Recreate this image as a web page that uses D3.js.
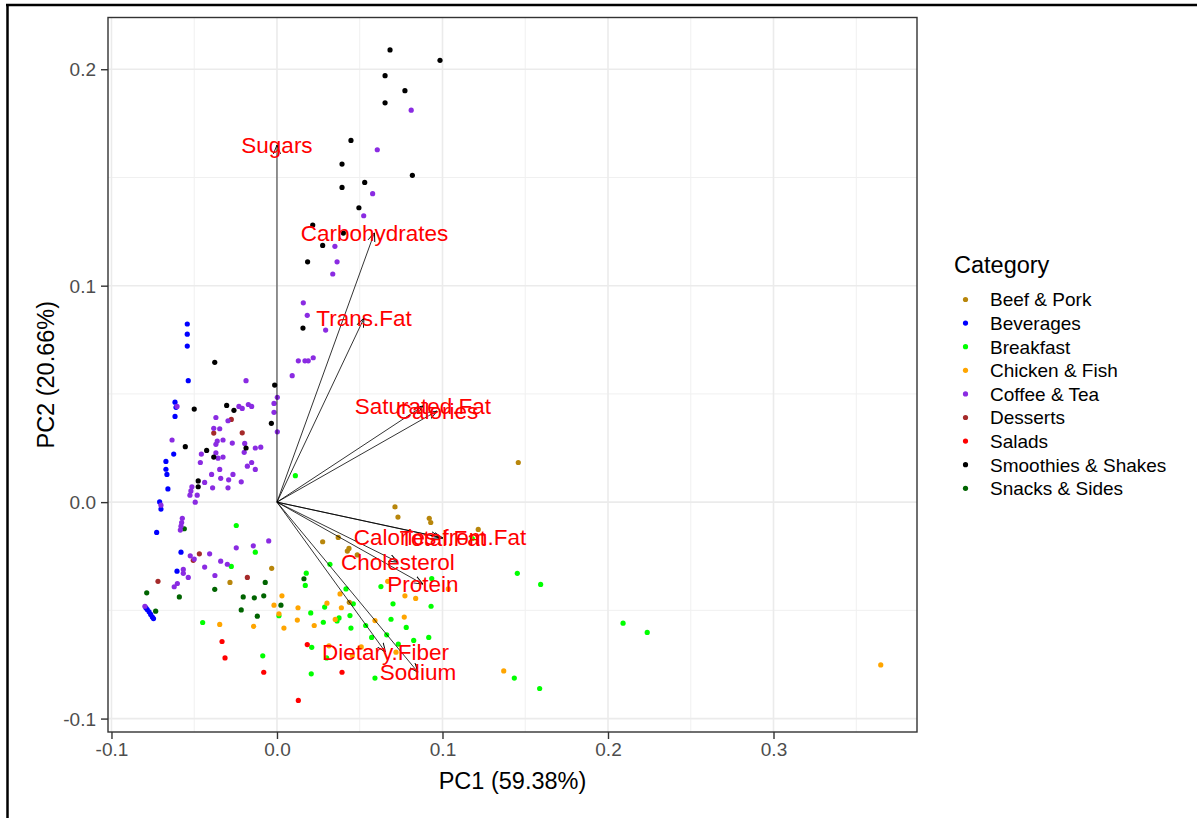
<!DOCTYPE html>
<html>
<head>
<meta charset="utf-8">
<script src="https://cdn.jsdelivr.net/npm/d3@7/dist/d3.min.js"></script>
<style>
  body { margin: 0; background: #fff; }
  text { font-family: "Liberation Sans", Arial, sans-serif; }
</style>
</head>
<body>
<div id="biplot"></div>

<script>
// legend order and colours
var categories = ["Beef & Pork", "Beverages", "Breakfast", "Chicken & Fish", "Coffee & Tea",
                  "Desserts", "Salads", "Smoothies & Shakes", "Snacks & Sides"]
var catColors = ["#B8860B", "#0000FF", "#00FF00", "#FFA500", "#8A2BE2",
                 "#A52A2A", "#FF0000", "#000000", "#006400"]

// PC scores [PC1, PC2]
var breakfast = [[0.0111,0.0122],[-0.0246,-0.0108],[-0.0131,-0.0231],[-0.0276,-0.0297],[-0.0449,-0.0556],
  [-0.0086,-0.0710],[0.0012,-0.0525],[0.0320,-0.0287],[0.0177,-0.0328],[0.0171,-0.0385],[0.0417,-0.0401],
  [0.0628,-0.0390],[0.0935,-0.0353],[0.0701,-0.0470],[0.0931,-0.0481],[0.0288,-0.0485],[0.0461,-0.0470],
  [0.0204,-0.0512],[0.0441,-0.0524],[0.0375,-0.0535],[0.0363,-0.0549],[0.0280,-0.0555],[0.0447,-0.0582],
  [0.0536,-0.0570],[0.0689,-0.0541],[0.0781,-0.0579],[0.0663,-0.0613],[0.0572,-0.0625],[0.0826,-0.0639],
  [0.0917,-0.0625],[0.0733,-0.0656],[0.0210,-0.0671],[0.0300,-0.0720],[0.0207,-0.0793],[0.0592,-0.0813],
  [0.1180,-0.0168],[0.1452,-0.0329],[0.1593,-0.0380],[0.2091,-0.0559],[0.2237,-0.0602],[0.1434,-0.0813],
  [0.1587,-0.0861]]
var beefPork = [[0.1458,0.0183],[0.0713,-0.0022],[0.0731,-0.0069],[0.0920,-0.0075],[0.0929,-0.0094],
  [0.1216,-0.0126],[0.0276,-0.0183],[0.0370,-0.0163],[0.0435,-0.0214],[0.0425,-0.0226],[0.0485,-0.0244],
  [-0.0032,-0.0306],[-0.0284,-0.0371],[0.0437,-0.0463]]
var chickenFish = [[0.0030,-0.0433],[-0.0018,-0.0476],[0.0012,-0.0516],[0.0042,-0.0582],[-0.0346,-0.0565],
  [-0.0141,-0.0574],[0.0127,-0.0488],[0.0302,-0.0467],[0.0389,-0.0488],[0.0381,-0.0424],[0.0669,-0.0366],
  [0.0773,-0.0433],[0.1035,-0.0401],[0.0838,-0.0445],[0.0123,-0.0545],[0.0225,-0.0570],[0.0352,-0.0542],
  [0.0592,-0.0547],[0.0769,-0.0531],[0.0314,-0.0664],[0.0509,-0.0669],[0.0455,-0.0710],[0.0719,-0.0693],
  [0.1370,-0.0780],[0.3648,-0.0752]]
var salads = [[-0.0332,-0.0644],[-0.0314,-0.0720],[-0.0080,-0.0786],[0.0183,-0.0658],[0.0393,-0.0786],
  [0.0129,-0.0916]]
var snacksSides = [[-0.0560,-0.0123],[-0.0787,-0.0419],[-0.0590,-0.0438],[-0.0733,-0.0504],[-0.0376,-0.0403],
  [-0.0204,-0.0438],[-0.0137,-0.0442],[-0.0080,-0.0433],[-0.0071,-0.0371],[-0.0216,-0.0498],[-0.0119,-0.0527],
  [0.0024,-0.0476],[0.0163,-0.0354]]
var desserts = [[-0.0276,0.0382],[-0.0382,0.0319],[-0.0210,0.0320],[-0.0469,-0.0239],[-0.0506,-0.0269],
  [-0.0719,-0.0366],[-0.0179,-0.0348]]
var beverages = [[-0.0542,0.0823],[-0.0542,0.0776],[-0.0542,0.0721],[-0.0536,0.0561],[-0.0616,0.0462],
  [-0.0610,0.0438],[-0.0616,0.0396],[-0.0624,0.0222],[-0.0671,0.0188],[-0.0671,0.0152],[-0.0665,0.0128],
  [-0.0659,0.0061],[-0.0709,0.0001],[-0.0701,-0.0032],[-0.0727,-0.0140],[-0.0580,-0.0231],[-0.0604,-0.0319],
  [-0.0792,-0.0488],[-0.0784,-0.0496],[-0.0773,-0.0507],[-0.0763,-0.0519],[-0.0753,-0.0531],[-0.0746,-0.0538]]
var coffeeTea = [[0.0811,0.1811],[0.0606,0.1628],[0.0578,0.1425],[0.0524,0.1323],[0.0350,0.1182],
  [0.0363,0.1110],[0.0337,0.1054],[0.0159,0.0921],[0.0183,0.0863],[0.0294,0.0795],[0.0129,0.0653],
  [0.0169,0.0653],[0.0189,0.0653],[0.0219,0.0667],[0.0092,0.0584],[0.0002,0.0484],[-0.0018,0.0456],
  [-0.0018,0.0415],[0.0002,0.0325],[-0.0187,0.0561],[-0.0604,0.0442],[-0.0230,0.0442],[-0.0210,0.0433],
  [-0.0173,0.0451],[-0.0153,0.0442],[-0.0369,0.0391],[-0.0296,0.0376],[-0.0382,0.0341],[-0.0346,0.0339],
  [-0.0634,0.0287],[-0.0361,0.0282],[-0.0326,0.0287],[-0.0369,0.0267],[-0.0270,0.0273],[-0.0195,0.0271],
  [-0.0198,0.0230],[-0.0131,0.0250],[-0.0098,0.0254],[-0.0457,0.0222],[-0.0369,0.0228],[-0.0356,0.0203],
  [-0.0326,0.0208],[-0.0463,0.0183],[-0.0179,0.0166],[-0.0153,0.0183],[-0.0131,0.0151],[-0.0346,0.0151],
  [-0.0395,0.0128],[-0.0266,0.0128],[-0.0340,0.0110],[-0.0292,0.0103],[-0.0216,0.0094],[-0.0437,0.0091],
  [-0.0514,0.0071],[-0.0520,0.0052],[-0.0526,0.0032],[-0.0389,0.0066],[-0.0296,0.0066],[-0.0482,0.0032],
  [-0.0701,-0.0014],[-0.0494,0.0000],[-0.0572,-0.0075],[-0.0576,-0.0094],[-0.0580,-0.0111],[-0.0584,-0.0129],
  [-0.0524,-0.0248],[-0.0500,-0.0263],[-0.0407,-0.0239],[-0.0340,-0.0273],[-0.0300,-0.0287],[-0.0437,-0.0300],
  [-0.0566,-0.0311],[-0.0566,-0.0329],[-0.0536,-0.0348],[-0.0375,-0.0339],[-0.0602,-0.0376],[-0.0621,-0.0391],
  [-0.0246,-0.0211],[-0.0143,-0.0202],[-0.0050,-0.0179],[-0.0798,-0.0481]]
var smoothiesShakes = [[0.0683,0.2089],[0.0985,0.2041],[0.0653,0.1970],[0.0773,0.1901],[0.0653,0.1845],
  [0.0447,0.1671],[0.0393,0.1562],[0.0818,0.1510],[0.0393,0.1454],[0.0530,0.1477],[0.0495,0.1360],
  [0.0216,0.1280],[0.0401,0.1243],[0.0276,0.1186],[0.0185,0.1110],[0.0157,0.0804],[-0.0014,0.0541],
  [-0.0034,0.0364],[-0.0376,0.0646],[-0.0500,0.0430],[-0.0304,0.0447],[-0.0260,0.0424],[-0.0554,0.0256],
  [-0.0425,0.0239],[-0.0382,0.0208],[-0.0187,0.0250],[-0.0476,0.0098],[-0.0476,0.0071]]

// variable loadings (arrow tips)
var varNames = ["Sugars", "Carbohydrates", "Trans.Fat", "Saturated.Fat", "Calories", "Total.Fat",
                "Calories.from.Fat", "Cholesterol", "Protein", "Dietary.Fiber", "Sodium"]
var varPC1 = [0.0000, 0.0589, 0.0526, 0.0882, 0.0967, 0.1003, 0.0985, 0.0731, 0.0882, 0.0656, 0.0852]
var varPC2 = [0.1650, 0.1245, 0.0850, 0.0444, 0.0421, -0.0166, -0.0162, -0.0277, -0.0379, -0.0693, -0.0786]

var xTicks = [-0.1, 0, 0.1, 0.2, 0.3]
var yTicks = [-0.1, 0, 0.1, 0.2]
var xMinor = [-0.05, 0.05, 0.15, 0.25, 0.35]
var yMinor = [-0.05, 0.05, 0.15]
var xTitle = "PC1 (59.38%)"
var yTitle = "PC2 (20.66%)"

// build point table in drawing order
var groups = [["Breakfast", breakfast], ["Beef & Pork", beefPork], ["Chicken & Fish", chickenFish],
              ["Salads", salads], ["Snacks & Sides", snacksSides], ["Desserts", desserts],
              ["Beverages", beverages], ["Coffee & Tea", coffeeTea], ["Smoothies & Shakes", smoothiesShakes]]
var points = []
groups.forEach(function(g){ g[1].forEach(function(p){ points.push({cat: g[0], pc1: p[0], pc2: p[1]}) }) })
var loadings = varNames.map(function(n, i){ return {name: n, pc1: varPC1[i], pc2: varPC2[i]} })

var W = 1200, H = 818
var panel = {left: 108, top: 17.5, right: 917, bottom: 732}

var svg = d3.select("#biplot")
            .append("svg")
            .attr("width", W)
            .attr("height", H)

var x = d3.scaleLinear().domain([-0.1021, 0.3867]).range([panel.left, panel.right])
var y = d3.scaleLinear().domain([-0.1062, 0.2239]).range([panel.bottom, panel.top])
var color = d3.scaleOrdinal().domain(categories).range(catColors)

// outer frame of the screenshot
svg.append("line").attr("x1", 7.5).attr("x2", 7.5).attr("y1", 4).attr("y2", H)
   .attr("stroke", "#000").attr("stroke-width", 2.5)
svg.append("line").attr("x1", 6).attr("x2", 1197).attr("y1", 5).attr("y2", 5)
   .attr("stroke", "#000").attr("stroke-width", 2.5)

// grid
var grid = svg.append("g")
grid.selectAll(".xminor").data(xMinor.filter(function(d){ return d < x.domain()[1] })).enter().append("line")
    .attr("x1", d=>x(d)).attr("x2", d=>x(d)).attr("y1", panel.top).attr("y2", panel.bottom)
    .attr("stroke", "#f0f0f0").attr("stroke-width", 1)
grid.selectAll(".yminor").data(yMinor).enter().append("line")
    .attr("y1", d=>y(d)).attr("y2", d=>y(d)).attr("x1", panel.left).attr("x2", panel.right)
    .attr("stroke", "#f0f0f0").attr("stroke-width", 1)
grid.selectAll(".xmajor").data(xTicks).enter().append("line")
    .attr("x1", d=>x(d)).attr("x2", d=>x(d)).attr("y1", panel.top).attr("y2", panel.bottom)
    .attr("stroke", "#ebebeb").attr("stroke-width", 1.6)
grid.selectAll(".ymajor").data(yTicks).enter().append("line")
    .attr("y1", d=>y(d)).attr("y2", d=>y(d)).attr("x1", panel.left).attr("x2", panel.right)
    .attr("stroke", "#ebebeb").attr("stroke-width", 1.6)

// points
svg.append("g").selectAll("circle")
   .data(points)
   .enter()
   .append("circle")
   .attr("cx", d=>x(d.pc1))
   .attr("cy", d=>y(d.pc2))
   .attr("r", 2.6)
   .style("fill", d=>color(d.cat))

// arrows
svg.append("defs").append("marker")
   .attr("id", "head")
   .attr("viewBox", "0 0 10 10")
   .attr("refX", 10).attr("refY", 5)
   .attr("markerWidth", 9).attr("markerHeight", 9)
   .attr("markerUnits", "userSpaceOnUse")
   .attr("orient", "auto")
   .append("path")
   .attr("d", "M0,1 L10,5 L0,9")
   .attr("fill", "none").attr("stroke", "#000").attr("stroke-width", 1)

svg.append("g").selectAll("line")
   .data(loadings)
   .enter()
   .append("line")
   .attr("x1", x(0)).attr("y1", y(0))
   .attr("x2", d=>x(d.pc1)).attr("y2", d=>y(d.pc2))
   .attr("stroke", "#000").attr("stroke-width", 0.8)
   .attr("marker-end", "url(#head)")

svg.append("g").selectAll("text")
   .data(loadings)
   .enter()
   .append("text")
   .attr("x", d=>x(d.pc1)).attr("y", d=>y(d.pc2))
   .attr("dy", "0.36em")
   .attr("text-anchor", "middle")
   .style("font-size", "22.5px")
   .style("fill", "#FF0000")
   .text(d=>d.name)

// panel border
svg.append("rect")
   .attr("x", panel.left).attr("y", panel.top)
   .attr("width", panel.right - panel.left).attr("height", panel.bottom - panel.top)
   .attr("fill", "none").attr("stroke", "#333").attr("stroke-width", 1.4)

// axes
var fmt = function(d){ return d.toFixed(1) }
var xAxis = d3.axisBottom(x).tickValues(xTicks).tickFormat(fmt).tickSize(7).tickSizeOuter(0)
var yAxis = d3.axisLeft(y).tickValues(yTicks).tickFormat(fmt).tickSize(7).tickSizeOuter(0)

var gx = svg.append("g").attr("transform", "translate(0, " + panel.bottom + ")").call(xAxis)
var gy = svg.append("g").attr("transform", "translate(" + panel.left + ", 0)").call(yAxis)
;[gx, gy].forEach(function(g){
  g.select(".domain").remove()
  g.selectAll(".tick line").attr("stroke", "#333").attr("stroke-width", 1.4)
  g.selectAll(".tick text").style("font-size", "19px").style("fill", "#4d4d4d")
   .style("font-family", "'Liberation Sans', Arial, sans-serif")
})
gx.selectAll(".tick text").attr("y", 11).attr("dy", "0.71em")
gy.selectAll(".tick text").attr("x", -12).attr("dy", "0.35em")

// axis titles
svg.append("text")
   .attr("x", (panel.left + panel.right) / 2).attr("y", 789)
   .attr("text-anchor", "middle")
   .style("font-size", "23.5px")
   .text(xTitle)
svg.append("text")
   .attr("transform", "translate(54, " + (panel.top + panel.bottom) / 2 + ") rotate(-90)")
   .attr("text-anchor", "middle")
   .style("font-size", "23.5px")
   .text(yTitle)

// legend
var legend = svg.append("g").attr("transform", "translate(954, 0)")
legend.append("text").attr("x", 0).attr("y", 273).style("font-size", "23.5px").text("Category")
var items = legend.selectAll(".item")
   .data(categories)
   .enter()
   .append("g")
   .attr("transform", (d, i) => "translate(0, " + (299.5 + i * 23.6) + ")")
items.append("circle").attr("cx", 11.5).attr("cy", 0).attr("r", 2.6).style("fill", d=>color(d))
items.append("text").attr("x", 36).attr("dy", "0.36em").style("font-size", "19px").text(d=>d)

</script>
</body>
</html>
